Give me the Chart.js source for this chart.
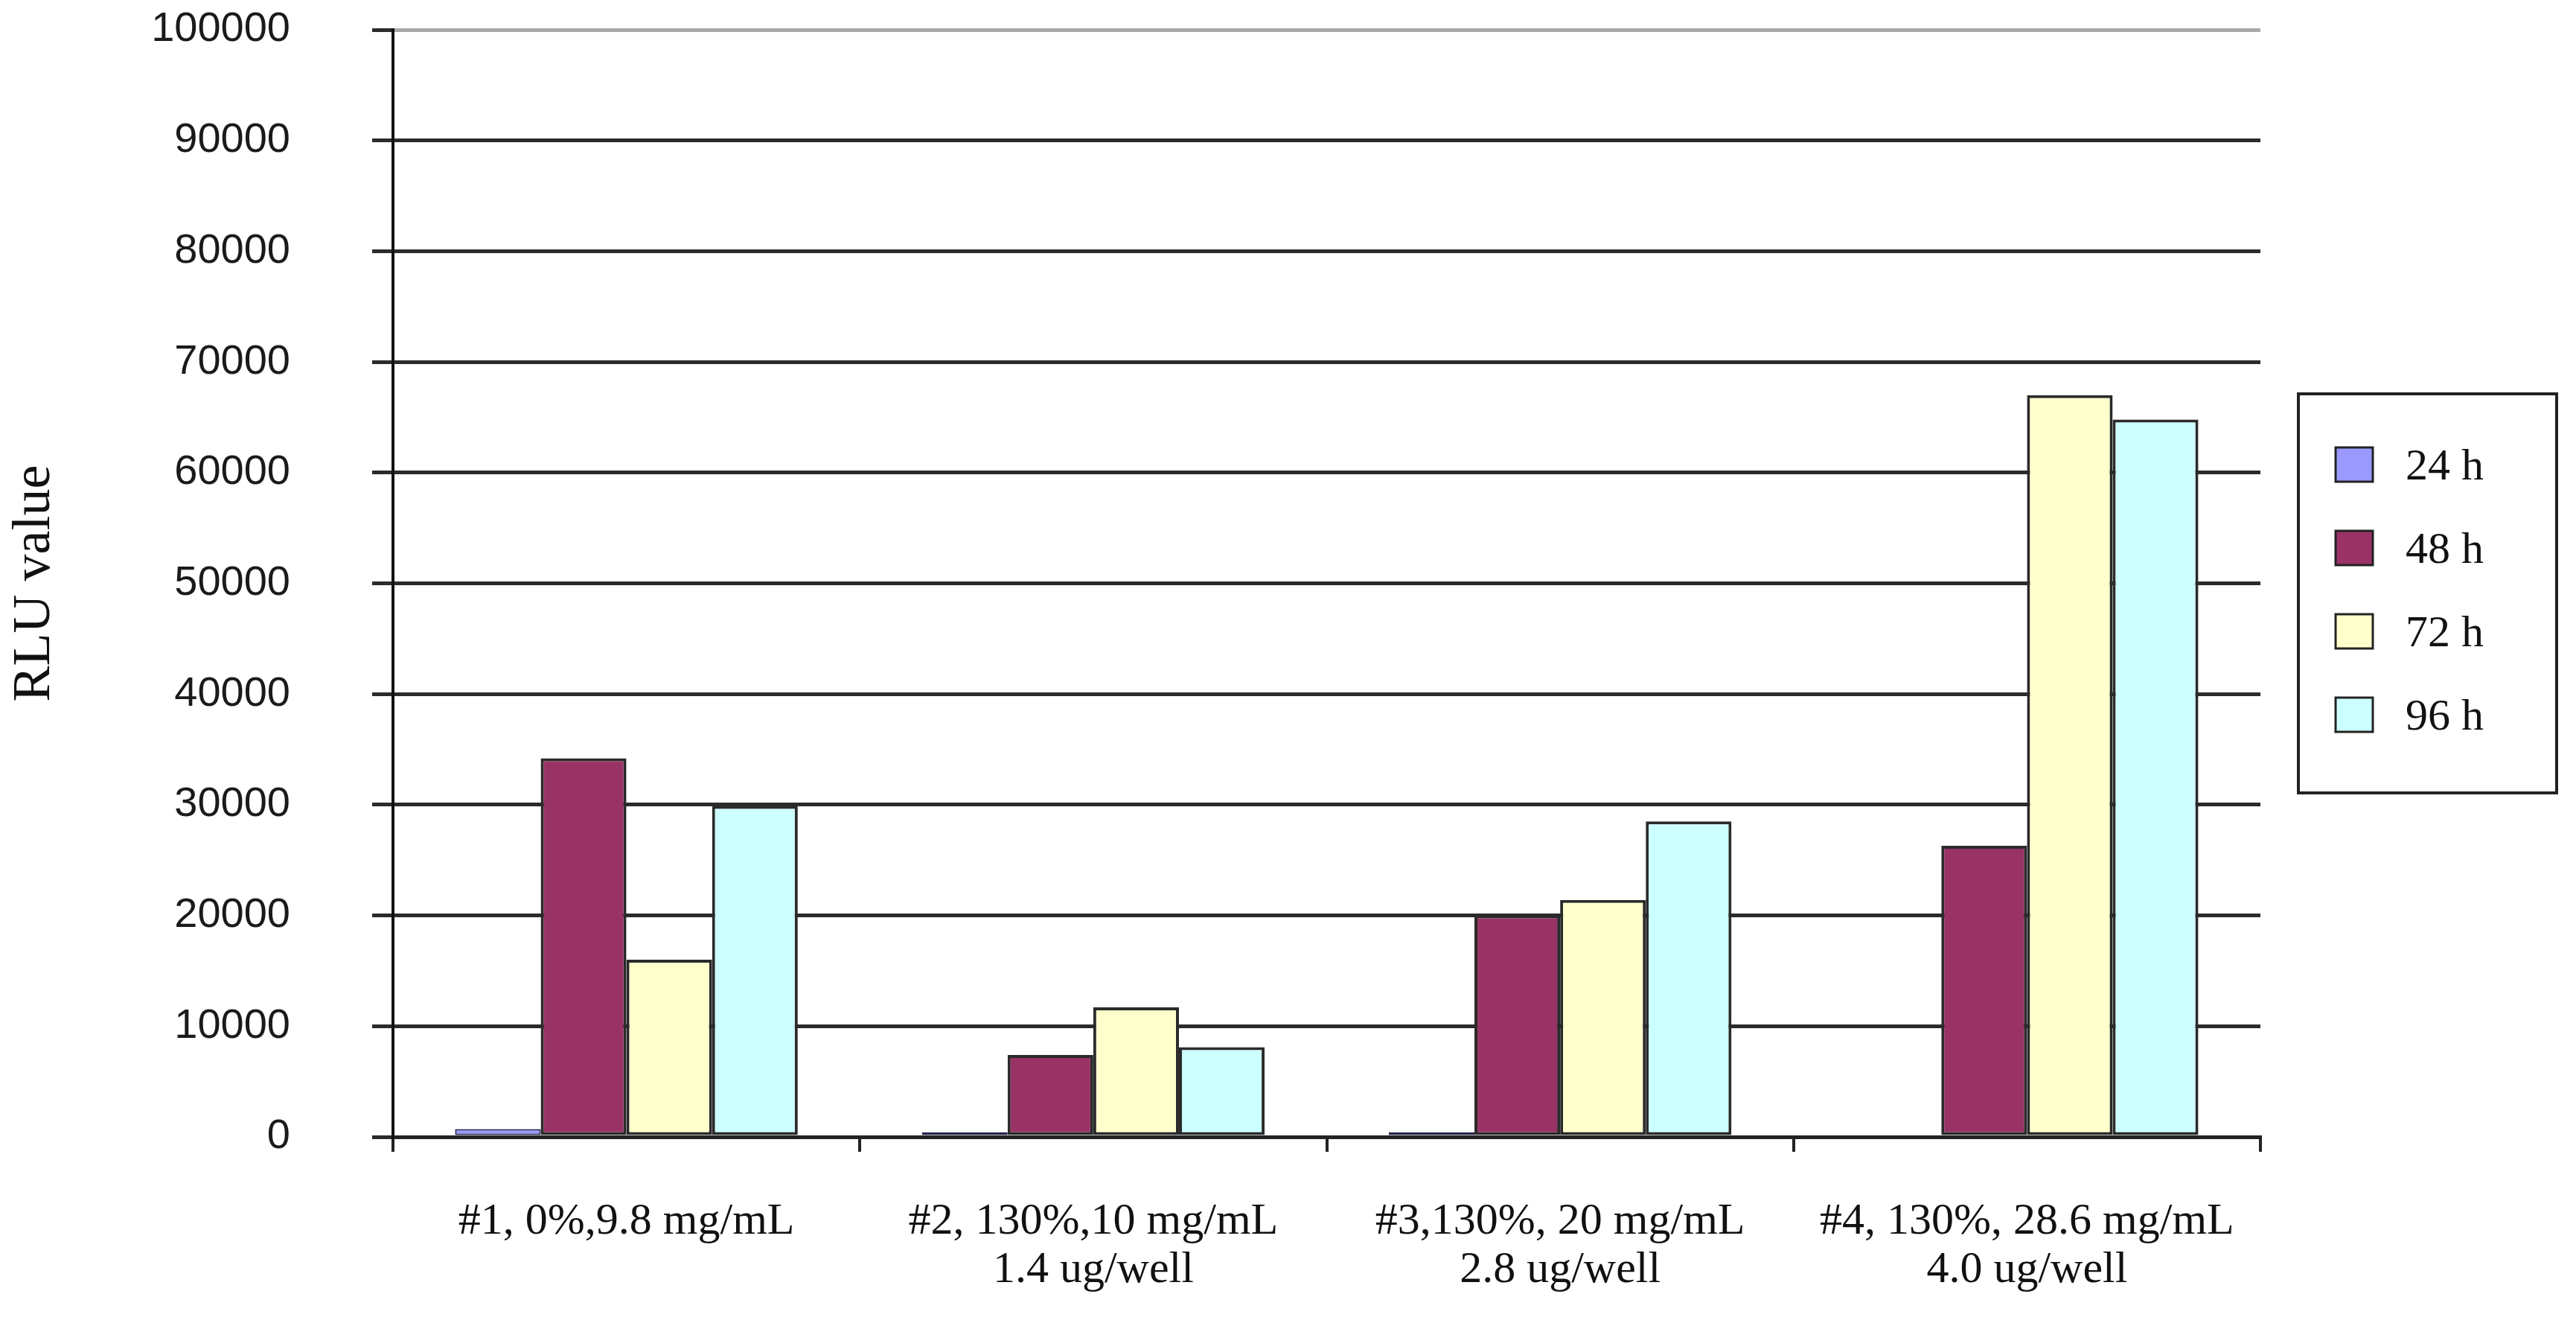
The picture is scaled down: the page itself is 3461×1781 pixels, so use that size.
<!DOCTYPE html>
<html>
<head>
<meta charset="utf-8">
<script src="https://cdn.jsdelivr.net/npm/chart.js@4/dist/chart.umd.min.js"></script>
<style>
  html, body { margin: 0; padding: 0; background: #fff; }
  canvas { display: block; }
</style>
</head>
<body>
<canvas id="rluChart" width="3461" height="1781"></canvas>
<script>
// categories (x axis), two lines each
const groupLabels = [
    ['#1, 0%,9.8 mg/mL'],
    ['#2, 130%,10 mg/mL', '1.4 ug/well'],
    ['#3,130%, 20 mg/mL', '2.8 ug/well'],
    ['#4, 130%, 28.6 mg/mL', '4.0 ug/well']
];

// series
const seriesNames = ['24 h', '48 h', '72 h', '96 h'];
const values24h = [700, 400, 400, 0];
const values48h = [34200, 7400, 20000, 26300];
const values72h = [16000, 11700, 21400, 67000];
const values96h = [29900, 8100, 28500, 64800];
const seriesColors = ['#9999ff', '#993366', '#ffffcc', '#ccffff'];

// y axis ticks
const yTicks = [0, 10000, 20000, 30000, 40000, 50000, 60000, 70000, 80000, 90000, 100000];

const serif = '"Liberation Serif", "Times New Roman", serif';
const sans = '"Liberation Sans", Arial, sans-serif';

// legend in a box on the right, drawn from the datasets
const boxLegend = {
    id: 'boxLegend',
    afterDraw(chart) {
        const c = chart.ctx;
        c.save();
        c.strokeStyle = '#222';
        c.lineWidth = 4;
        c.strokeRect(3088, 529, 347, 536);
        c.font = '60px ' + serif;
        c.textBaseline = 'middle';
        c.textAlign = 'left';
        chart.data.datasets.forEach(function (ds, i) {
            const y = 624 + i * 112;
            c.fillStyle = ds.backgroundColor;
            c.fillRect(3138, y - 23, 50, 46);
            c.lineWidth = 3;
            c.strokeStyle = '#222';
            c.strokeRect(3138, y - 23, 50, 46);
            c.fillStyle = '#111';
            c.fillText(ds.label, 3232, y + 4);
        });
        c.restore();
    }
};

const allValues = [values24h, values48h, values72h, values96h];

new Chart(document.getElementById('rluChart'), {
    type: 'bar',
    data: {
        labels: groupLabels,
        datasets: seriesNames.map(function (name, i) {
            return {
                label: name,
                data: allValues[i],
                backgroundColor: seriesColors[i],
                borderColor: i === 0 ? '#22224a' : '#2a2a2a',
                // thin outline on the tiny 24 h bars so the fill still shows
                borderWidth: i === 0 ? 2 : 4,
                borderSkipped: false,
                categoryPercentage: 0.734,
                barPercentage: 1.0
            };
        })
    },
    options: {
        responsive: false,
        devicePixelRatio: 1,
        animation: false,
        layout: {
            padding: { top: 40, right: 424, bottom: 0, left: 0 }
        },
        scales: {
            x: {
                grid: {
                    offset: true,
                    drawOnChartArea: true,
                    color: function (ctx) {
                        return ctx.index === groupLabels.length ? '#a8a8a8' : 'rgba(0,0,0,0)';
                    },
                    lineWidth: 4,
                    tickColor: '#222',
                    tickLength: 20
                },
                border: { color: '#222', width: 5 },
                ticks: {
                    color: '#111',
                    padding: 62,
                    maxRotation: 0,
                    autoSkip: false,
                    font: { family: serif, size: 60, lineHeight: 1.08 }
                },
                afterFit: function (scale) { scale.height = 254; }
            },
            y: {
                min: 0,
                max: 100000,
                afterBuildTicks: function (scale) {
                    scale.ticks = yTicks.map(function (v) { return { value: v }; });
                },
                grid: {
                    color: function (ctx) {
                        return ctx.tick && ctx.tick.value === 100000 ? '#a8a8a8' : '#2b2b2b';
                    },
                    tickColor: '#2b2b2b',
                    lineWidth: 5,
                    tickLength: 28
                },
                border: { color: '#111', width: 4 },
                ticks: {
                    color: '#1a1a1a',
                    padding: 110,
                    font: { family: sans, size: 56 },
                    callback: function (v) { return String(v); }
                },
                title: {
                    display: true,
                    text: 'RLU value',
                    color: '#111',
                    padding: { top: 4, bottom: 0 },
                    font: { family: serif, size: 72 }
                },
                afterFit: function (scale) {
                    scale.width = 528;
                    // big label gap should not push the plot down
                    scale.paddingTop = 0;
                    scale.paddingBottom = 0;
                }
            }
        },
        plugins: {
            legend: { display: false },
            tooltip: { enabled: false }
        }
    },
    plugins: [boxLegend]
});
</script>
</body>
</html>
